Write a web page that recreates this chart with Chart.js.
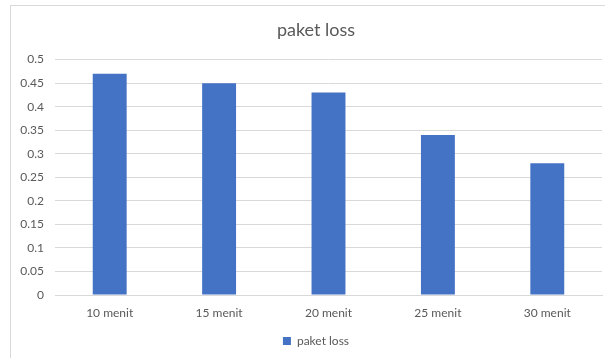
<!DOCTYPE html>
<html>
<head>
<meta charset="utf-8">
<script src="https://cdn.jsdelivr.net/npm/chart.js@4.4.0/dist/chart.umd.min.js"></script>
<style>
  html, body { margin: 0; padding: 0; background: #fff; overflow: hidden; }
  body { width: 605px; height: 358px; position: relative; }
  #frame {
    position: absolute; left: 10px; top: 5px;
    width: 610px; height: 360px;
    border: 1px solid #d9d9d9;
  }
  #wrap { position: absolute; left: 0; top: 0; width: 610px; height: 355px; }
</style>
</head>
<body>
<div id="frame">
  <div id="wrap"><canvas id="chart"></canvas></div>
</div>
<script>
// ---------- Data ----------
const CATEGORIES = ['10 menit', '15 menit', '20 menit', '25 menit', '30 menit'];
const PAKET_LOSS = [0.47, 0.45, 0.43, 0.34, 0.28];
const SERIES_LABEL = 'paket loss';
const Y_MAX = 0.5;
const Y_STEP = 0.05;

const FONT = 'Lato, "Liberation Sans", sans-serif';
const TEXT = '#595959';
const GRID = '#d9d9d9';

new Chart(document.getElementById('chart'), {
  type: 'bar',
  data: {
    labels: CATEGORIES,
    datasets: [{
      label: SERIES_LABEL,
      data: PAKET_LOSS,
      backgroundColor: '#4472C4',
      borderWidth: 0,
      barPercentage: 0.31,
      categoryPercentage: 1
    }]
  },
  options: {
    responsive: true,
    maintainAspectRatio: false,
    animation: false,
    layout: { padding: { left: 0, right: 0, top: 0, bottom: 4 } },
    plugins: {
      title: {
        display: true,
        text: 'paket loss',
        color: TEXT,
        font: { family: FONT, size: 18, weight: 'normal' },
        padding: { top: 13, bottom: 19 }
      },
      legend: {
        position: 'bottom',
        labels: {
          color: TEXT,
          font: { family: FONT, size: 12 },
          boxWidth: 8,
          boxHeight: 8,
          padding: 12
        }
      },
      tooltip: { enabled: false }
    },
    scales: {
      x: {
        grid: { display: false },
        border: { display: true, color: GRID },
        ticks: { color: TEXT, font: { family: FONT, size: 12 }, padding: 3 },
        afterFit: (s) => { s.height = 28; }
      },
      y: {
        min: 0,
        max: Y_MAX,
        grid: { color: GRID, drawTicks: false },
        border: { display: false },
        ticks: {
          stepSize: Y_STEP,
          color: TEXT,
          font: { family: FONT, size: 12 },
          padding: 11,
          callback: (v) => String(+v.toFixed(2))
        },
        afterFit: (s) => { s.width = 44; }
      },
      // empty right-hand strip, keeps the plot off the right edge
      yRight: {
        position: 'right',
        display: true,
        grid: { display: false },
        border: { display: false },
        ticks: { display: false },
        afterFit: (s) => { s.width = 19; }
      }
    }
  }
});
</script>
</body>
</html>
